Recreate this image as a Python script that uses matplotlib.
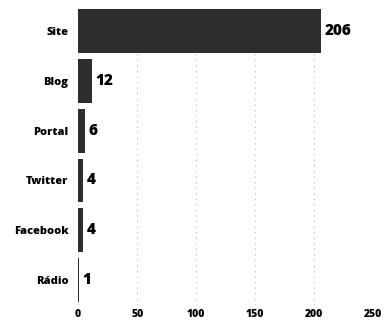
import matplotlib
matplotlib.use("Agg")
import matplotlib.pyplot as plt

# data
categories = ['Site', 'Blog', 'Portal', 'Twitter', 'Facebook', 'Rádio']
values = [206, 12, 6, 4, 4, 1]
x_ticks = [0, 50, 100, 150, 200, 250]

plt.rcParams['font.family'] = ['Open Sans', 'DejaVu Sans']

fig = plt.figure(figsize=(3.85, 3.24), dpi=100)
ax = fig.add_axes([0.203, 0.06, 0.766, 0.92])

pos = list(range(len(categories)))
ax.barh(pos, values, height=0.88, color='#2e2e2e', zorder=3)
for p, v in zip(pos, values):
    ax.text(v + 3, p, str(v), va='center', ha='left', fontsize=11,
            fontweight='heavy', color='black')

ax.set_xlim(0, 250)
ax.set_ylim(len(categories) - 0.5, -0.5)
ax.set_yticks(pos)
ax.set_yticklabels(categories, fontsize=8, fontweight='heavy')
ax.set_xticks(x_ticks)
ax.set_xticklabels([str(t) for t in x_ticks], fontsize=7.5, fontweight='heavy')
ax.tick_params(axis='y', length=0, pad=7)
ax.tick_params(axis='x', length=0, pad=3)
ax.grid(axis='x', color='#bbbbbb', linestyle=(0, (1, 4)), linewidth=0.8, zorder=0)
for s in ax.spines.values():
    s.set_visible(False)

plt.savefig('out.png', dpi=100)
